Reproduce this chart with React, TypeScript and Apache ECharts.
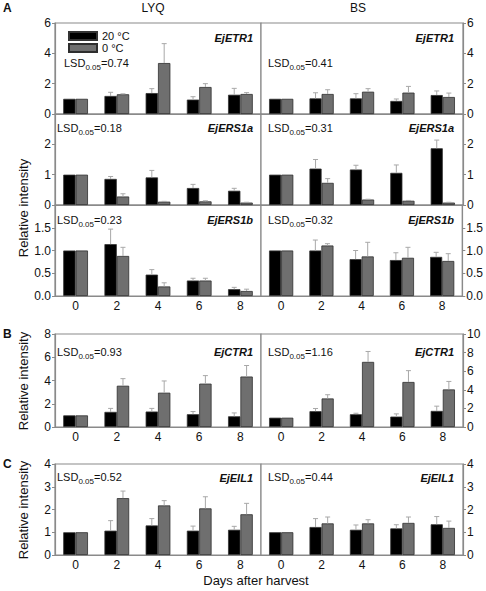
import React, { useEffect, useRef } from "react";
import * as echarts from "echarts";

const days = ["0", "2", "4", "6", "8"];
const seriesNames = ["20 °C", "0 °C"];

// A – EjETR1
const lyqETR1Warm = [1.0, 1.19, 1.38, 0.95, 1.27];
const lyqETR1WarmErr = [0, 0.24, 0.29, 0.19, 0.42];
const lyqETR1Cold = [1.0, 1.3, 3.36, 1.78, 1.32];
const lyqETR1ColdErr = [0, 0.03, 1.28, 0.22, 0.09];
const bsETR1Warm = [1.0, 1.03, 1.03, 0.86, 1.25];
const bsETR1WarmErr = [0, 0.37, 0.31, 0.13, 0.27];
const bsETR1Cold = [1.0, 1.32, 1.47, 1.41, 1.12];
const bsETR1ColdErr = [0, 0.28, 0.2, 0.41, 0.26];

// A – EjERS1a
const lyqERS1aWarm = [1.0, 0.86, 0.91, 0.56, 0.47];
const lyqERS1aWarmErr = [0, 0.08, 0.23, 0.12, 0.08];
const lyqERS1aCold = [1.0, 0.28, 0.11, 0.12, 0.08];
const lyqERS1aColdErr = [0, 0.09, 0.01, 0.02, 0.01];
const bsERS1aWarm = [1.0, 1.2, 1.17, 1.06, 1.87];
const bsERS1aWarmErr = [0, 0.3, 0.14, 0.26, 0.27];
const bsERS1aCold = [1.0, 0.73, 0.18, 0.14, 0.08];
const bsERS1aColdErr = [0, 0.14, 0.01, 0.01, 0.01];

// A – EjERS1b
const lyqERS1bWarm = [1.0, 1.14, 0.47, 0.34, 0.15];
const lyqERS1bWarmErr = [0, 0.33, 0.11, 0.05, 0.04];
const lyqERS1bCold = [1.0, 0.88, 0.21, 0.34, 0.11];
const lyqERS1bColdErr = [0, 0.19, 0.08, 0.05, 0.04];
const bsERS1bWarm = [1.0, 1.0, 0.81, 0.79, 0.86];
const bsERS1bWarmErr = [0, 0.23, 0.19, 0.16, 0.1];
const bsERS1bCold = [1.0, 1.11, 0.87, 0.84, 0.77];
const bsERS1bColdErr = [0, 0.04, 0.31, 0.23, 0.16];

// B – EjCTR1
const lyqCTR1Warm = [1.0, 1.3, 1.33, 1.1, 0.92];
const lyqCTR1WarmErr = [0, 0.3, 0.27, 0.23, 0.29];
const lyqCTR1Cold = [1.0, 3.55, 2.95, 3.73, 4.34];
const lyqCTR1ColdErr = [0, 0.61, 1.01, 0.69, 0.95];
const bsCTR1Warm = [1.0, 1.7, 1.37, 1.12, 1.73];
const bsCTR1WarmErr = [0, 0.29, 0.11, 0.29, 0.51];
const bsCTR1Cold = [1.0, 3.07, 7.0, 4.84, 4.04];
const bsCTR1ColdErr = [0, 0.4, 1.12, 1.22, 0.86];

// C – EjEIL1
const lyqEIL1Warm = [1.0, 1.07, 1.3, 1.07, 1.11];
const lyqEIL1WarmErr = [0, 0.44, 0.3, 0.2, 0.15];
const lyqEIL1Cold = [1.0, 2.5, 2.18, 2.05, 1.79];
const lyqEIL1ColdErr = [0, 0.31, 0.21, 0.51, 0.48];
const bsEIL1Warm = [1.0, 1.23, 1.11, 1.17, 1.35];
const bsEIL1WarmErr = [0, 0.37, 0.21, 0.16, 0.34];
const bsEIL1Cold = [1.0, 1.39, 1.39, 1.41, 1.19];
const bsEIL1ColdErr = [0, 0.28, 0.16, 0.26, 0.3];

const genes = ["EjETR1", "EjERS1a", "EjERS1b", "EjCTR1", "EjEIL1"];
const lsdLYQ = ["0.74", "0.18", "0.23", "0.93", "0.52"];
const lsdBS = ["0.41", "0.31", "0.32", "1.16", "0.44"];
const yMaxLYQ = [6, 3, 2, 8, 4];
const yMaxBS = [6, 3, 2, 10, 4];
const yStep = [2, 1, 0.5, 2, 1];
const columnTitles = ["LYQ", "BS"];
const panelLetters = ["A", "B", "C"];
const yTitle = "Relative intensity";
const xTitle = "Days after harvest";

const dataLYQ = [
  [lyqETR1Warm, lyqETR1WarmErr, lyqETR1Cold, lyqETR1ColdErr],
  [lyqERS1aWarm, lyqERS1aWarmErr, lyqERS1aCold, lyqERS1aColdErr],
  [lyqERS1bWarm, lyqERS1bWarmErr, lyqERS1bCold, lyqERS1bColdErr],
  [lyqCTR1Warm, lyqCTR1WarmErr, lyqCTR1Cold, lyqCTR1ColdErr],
  [lyqEIL1Warm, lyqEIL1WarmErr, lyqEIL1Cold, lyqEIL1ColdErr],
];
const dataBS = [
  [bsETR1Warm, bsETR1WarmErr, bsETR1Cold, bsETR1ColdErr],
  [bsERS1aWarm, bsERS1aWarmErr, bsERS1aCold, bsERS1aColdErr],
  [bsERS1bWarm, bsERS1bWarmErr, bsERS1bCold, bsERS1bColdErr],
  [bsCTR1Warm, bsCTR1WarmErr, bsCTR1Cold, bsCTR1ColdErr],
  [bsEIL1Warm, bsEIL1WarmErr, bsEIL1Cold, bsEIL1ColdErr],
];

// layout
const rowTops = [23, 114, 205, 334, 464];
const rowHeights = [91, 91, 91, 93, 91];
const colLeft = [55, 261];
const colWidth = [206, 202];
const showXLabels = [false, false, true, true, true];
const hideMaxLabel = [false, true, true, false, false];
const lsdY = [63, 128, 220, 352, 477];
const geneY = [38, 128, 220, 352, 478];
const lsdXLeft = [64, 57, 57, 57, 57];
const lsdXRight = 268;
const geneX = [253, 454];

const FONT = "'Liberation Sans', Arial, Helvetica, sans-serif";
const BORDER = "#8a8a8a";
const BAR_FRAC = 0.3;

export default function App() {
  const ref = useRef<HTMLDivElement>(null);

  useEffect(() => {
    if (!ref.current) return;
    const chart = echarts.init(ref.current, undefined, { renderer: "svg" });

    const grids: any[] = [];
    const xAxes: any[] = [];
    const yAxes: any[] = [];
    const series: any[] = [];
    const graphics: any[] = [];

    let idx = 0;
    for (let r = 0; r < 5; r++) {
      for (let c = 0; c < 2; c++) {
        const d = c === 0 ? dataLYQ[r] : dataBS[r];
        const max = c === 0 ? yMaxLYQ[r] : yMaxBS[r];
        grids.push({
          left: colLeft[c],
          top: rowTops[r],
          width: colWidth[c],
          height: rowHeights[r],
          show: true,
          borderColor: BORDER,
          borderWidth: 1.2,
          backgroundColor: "#fff",
          containLabel: false,
        });
        xAxes.push({
          type: "category",
          gridIndex: idx,
          data: days,
          axisLine: { show: true, lineStyle: { color: BORDER, width: 1.2 } },
          axisTick: { show: false },
          axisLabel: {
            show: showXLabels[r],
            margin: 4,
            fontSize: 12,
            color: "#111",
            fontFamily: FONT,
          },
          splitLine: { show: false },
        });
        yAxes.push({
          type: "value",
          gridIndex: idx,
          position: c === 0 ? "left" : "right",
          min: 0,
          max,
          interval: yStep[r],
          axisLine: { show: true, lineStyle: { color: BORDER, width: 1.2 } },
          axisTick: { show: true, inside: false, length: 3, lineStyle: { color: BORDER } },
          axisLabel: {
            margin: 4,
            fontSize: 12,
            color: "#111",
            fontFamily: FONT,
            showMaxLabel: !hideMaxLabel[r],
            formatter: (v: number) => (r === 2 ? v.toFixed(1) : String(v)),
          },
          splitLine: { show: false },
        });
        series.push({
          type: "bar",
          name: seriesNames[0],
          xAxisIndex: idx,
          yAxisIndex: idx,
          data: d[0],
          barWidth: BAR_FRAC * 100 + "%",
          barGap: "0%",
          itemStyle: { color: "#000", borderColor: "#333", borderWidth: 0.8 },
        });
        series.push({
          type: "bar",
          name: seriesNames[1],
          xAxisIndex: idx,
          yAxisIndex: idx,
          data: d[2],
          barWidth: BAR_FRAC * 100 + "%",
          barGap: "0%",
          itemStyle: { color: "#6f6f6f", borderColor: "#2e2e2e", borderWidth: 0.8 },
        });
        const errData: number[][] = [];
        for (let i = 0; i < days.length; i++) {
          errData.push([i, d[0][i], d[1][i], 0]);
          errData.push([i, d[2][i], d[3][i], 1]);
        }
        series.push({
          type: "custom",
          name: "err",
          xAxisIndex: idx,
          yAxisIndex: idx,
          z: 5,
          data: errData,
          renderItem: (params: any, api: any) => {
            const ci = api.value(0);
            const v = api.value(1);
            const e = api.value(2);
            const s = api.value(3);
            if (!e || e <= 0.005) return null;
            const bw = api.size([1, 0])[0] * BAR_FRAC;
            const p = api.coord([ci, v]);
            const q = api.coord([ci, v + e]);
            const x = p[0] + (s === 0 ? -bw / 2 : bw / 2);
            const st = { stroke: "#a8a8a8", lineWidth: 1 };
            return {
              type: "group",
              children: [
                { type: "line", shape: { x1: x, y1: p[1], x2: x, y2: q[1] }, style: st },
                { type: "line", shape: { x1: x - 2.5, y1: q[1], x2: x + 2.5, y2: q[1] }, style: st },
              ],
            };
          },
        });

        // texts
        const lsd = c === 0 ? lsdLYQ[r] : lsdBS[r];
        graphics.push({
          type: "text",
          x: c === 0 ? lsdXLeft[r] : lsdXRight,
          y: lsdY[r],
          z: 10,
          style: {
            text: "LSD{s|0.05}=" + lsd,
            fontSize: 11,
            lineHeight: 16,
            fontFamily: FONT,
            fill: "#111",
            align: "left",
            verticalAlign: "middle",
            rich: {
              s: { fontSize: 8, lineHeight: 8, verticalAlign: "bottom", fontFamily: FONT, fill: "#111" },
            },
          },
        });
        graphics.push({
          type: "text",
          x: geneX[c],
          y: geneY[r],
          z: 10,
          style: {
            text: genes[r],
            fontSize: 11,
            fontWeight: "bold",
            fontStyle: "italic",
            fontFamily: FONT,
            fill: "#111",
            align: "right",
            verticalAlign: "middle",
          },
        });
        idx++;
      }
    }

    // titles & labels
    graphics.push({
      type: "text", x: 153, y: 8,
      style: { text: columnTitles[0], fontSize: 12, fontFamily: FONT, fill: "#111", align: "center", verticalAlign: "middle" },
    });
    graphics.push({
      type: "text", x: 358, y: 8,
      style: { text: columnTitles[1], fontSize: 12, fontFamily: FONT, fill: "#111", align: "center", verticalAlign: "middle" },
    });
    const letterY = [8, 334, 464];
    panelLetters.forEach((L, i) => {
      graphics.push({
        type: "text", x: 3, y: letterY[i],
        style: { text: L, fontSize: 12, fontWeight: "bold", fontFamily: FONT, fill: "#111", align: "left", verticalAlign: "middle" },
      });
    });
    const yTitleY = [208, 381, 510];
    yTitleY.forEach((yy) => {
      graphics.push({
        type: "text", x: 23, y: yy, rotation: Math.PI / 2,
        style: { text: yTitle, fontSize: 13, fontFamily: FONT, fill: "#111", align: "center", verticalAlign: "middle" },
      });
    });
    graphics.push({
      type: "text", x: 256, y: 580,
      style: { text: xTitle, fontSize: 13, fontFamily: FONT, fill: "#111", align: "center", verticalAlign: "middle" },
    });

    chart.setOption({
      animation: false,
      backgroundColor: "#fff",
      textStyle: { fontFamily: FONT },
      grid: grids,
      xAxis: xAxes,
      yAxis: yAxes,
      series,
      legend: {
        data: seriesNames,
        orient: "vertical",
        left: 63,
        top: 25,
        itemWidth: 28,
        itemHeight: 8,
        itemGap: 0,
        icon: "rect",
        selectedMode: false,
        textStyle: { fontSize: 11, lineHeight: 12, color: "#111", fontFamily: FONT },
        z: 10,
      },
      graphic: graphics,
    });

    return () => chart.dispose();
  }, []);

  return (
    <div
      ref={ref}
      style={{ position: "fixed", left: 0, top: 0, width: 486, height: 591, background: "#fff" }}
    />
  );
}
